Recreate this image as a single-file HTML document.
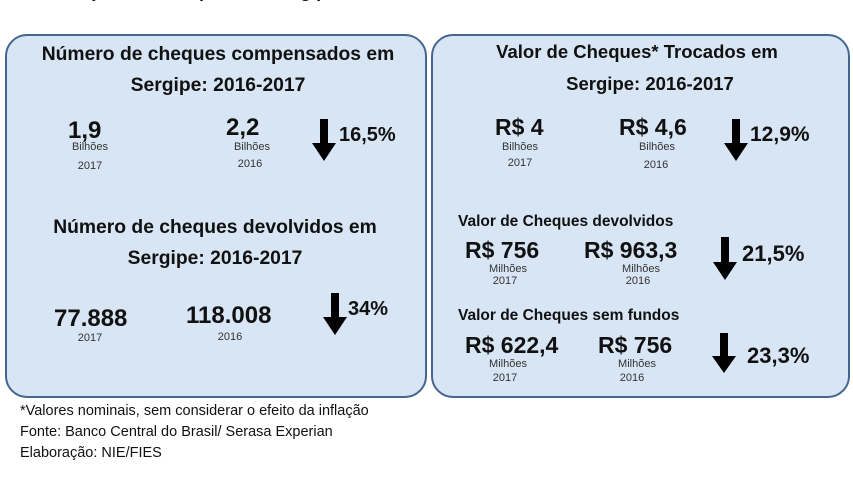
<!DOCTYPE html>
<html><head><meta charset="utf-8"><style>
body{margin:0;width:853px;height:479px;background:#fff;position:relative;overflow:hidden;font-family:"Liberation Sans",sans-serif;color:#111}
.p{position:absolute;background:#d7e5f4;border:2px solid #45668e;border-radius:22px;box-sizing:border-box}
.t{position:absolute;white-space:nowrap;font-weight:bold}
.c{text-align:center;transform:translateX(-50%)}
.s{position:absolute;white-space:nowrap;font-size:11px;color:#333;transform:translateX(-50%)}
.arr{position:absolute}
</style></head><body>
<div class="t" style="left:40px;top:-19px;font-size:18px">Evolução dos cheques em Sergipe</div>
<div class="p" style="left:5px;top:34px;width:422px;height:364px"></div>
<div class="p" style="left:431px;top:34px;width:419px;height:364px"></div>

<div class="t c" style="left:218px;top:44px;font-size:19.3px">Número de cheques compensados em</div>
<div class="t c" style="left:218px;top:75px;font-size:19.3px">Sergipe: 2016-2017</div>
<div class="t" style="left:68px;top:117px;font-size:24px">1,9</div>
<div class="s" style="left:90px;top:141px">Bilhões</div>
<div class="s" style="left:90px;top:160px">2017</div>
<div class="t" style="left:226px;top:114px;font-size:24px">2,2</div>
<div class="s" style="left:252px;top:141px">Bilhões</div>
<div class="s" style="left:250px;top:158px">2016</div>
<svg class="arr" style="left:312px;top:119px" width="24" height="42"><polygon points="8,0 16,0 16,24 24,24 12,42 0,24 8,24" fill="#000"/></svg>
<div class="t" style="left:339px;top:124px;font-size:20px">16,5%</div>

<div class="t c" style="left:215px;top:217px;font-size:19.3px">Número de cheques devolvidos em</div>
<div class="t c" style="left:215px;top:248px;font-size:19.3px">Sergipe: 2016-2017</div>
<div class="t" style="left:54px;top:305px;font-size:24px">77.888</div>
<div class="s" style="left:90px;top:332px">2017</div>
<div class="t" style="left:186px;top:302px;font-size:24px">118.008</div>
<div class="s" style="left:230px;top:331px">2016</div>
<svg class="arr" style="left:323px;top:293px" width="24" height="42"><polygon points="8,0 16,0 16,24 24,24 12,42 0,24 8,24" fill="#000"/></svg>
<div class="t" style="left:348px;top:298px;font-size:20px">34%</div>

<div class="t c" style="left:637px;top:41px;font-size:18.5px">Valor de Cheques* Trocados em</div>
<div class="t c" style="left:650px;top:73px;font-size:18.5px">Sergipe: 2016-2017</div>
<div class="t" style="left:495px;top:114px;font-size:23px">R$ 4</div>
<div class="s" style="left:520px;top:141px">Bilhões</div>
<div class="s" style="left:520px;top:157px">2017</div>
<div class="t" style="left:619px;top:114px;font-size:23px">R$ 4,6</div>
<div class="s" style="left:657px;top:141px">Bilhões</div>
<div class="s" style="left:656px;top:159px">2016</div>
<svg class="arr" style="left:724px;top:119px" width="24" height="42"><polygon points="8,0 16,0 16,24 24,24 12,42 0,24 8,24" fill="#000"/></svg>
<div class="t" style="left:750px;top:123px;font-size:21px">12,9%</div>

<div class="t" style="left:458px;top:213px;font-size:15.5px">Valor de Cheques devolvidos</div>
<div class="t" style="left:465px;top:237px;font-size:23px">R$ 756</div>
<div class="s" style="left:508px;top:263px">Milhões</div>
<div class="s" style="left:505px;top:275px">2017</div>
<div class="t" style="left:584px;top:237px;font-size:23px">R$ 963,3</div>
<div class="s" style="left:641px;top:263px">Milhões</div>
<div class="s" style="left:638px;top:275px">2016</div>
<svg class="arr" style="left:713px;top:237px" width="24" height="43"><polygon points="8,0 16,0 16,25 24,25 12,43 0,25 8,25" fill="#000"/></svg>
<div class="t" style="left:742px;top:241px;font-size:22px">21,5%</div>

<div class="t" style="left:458px;top:307px;font-size:15.5px">Valor de Cheques sem fundos</div>
<div class="t" style="left:465px;top:332px;font-size:23px">R$ 622,4</div>
<div class="s" style="left:508px;top:358px">Milhões</div>
<div class="s" style="left:505px;top:372px">2017</div>
<div class="t" style="left:598px;top:332px;font-size:23px">R$ 756</div>
<div class="s" style="left:637px;top:358px">Milhões</div>
<div class="s" style="left:632px;top:372px">2016</div>
<svg class="arr" style="left:712px;top:333px" width="24" height="40"><polygon points="8,0 16,0 16,23 24,23 12,40 0,23 8,23" fill="#000"/></svg>
<div class="t" style="left:747px;top:343px;font-size:22px">23,3%</div>

<div style="position:absolute;left:20px;top:401px;font-size:14.5px;line-height:21px;color:#111">*Valores nominais, sem considerar o efeito da inflação<br>Fonte: Banco Central do Brasil/ Serasa Experian<br>Elaboração: NIE/FIES</div>
</body></html>
